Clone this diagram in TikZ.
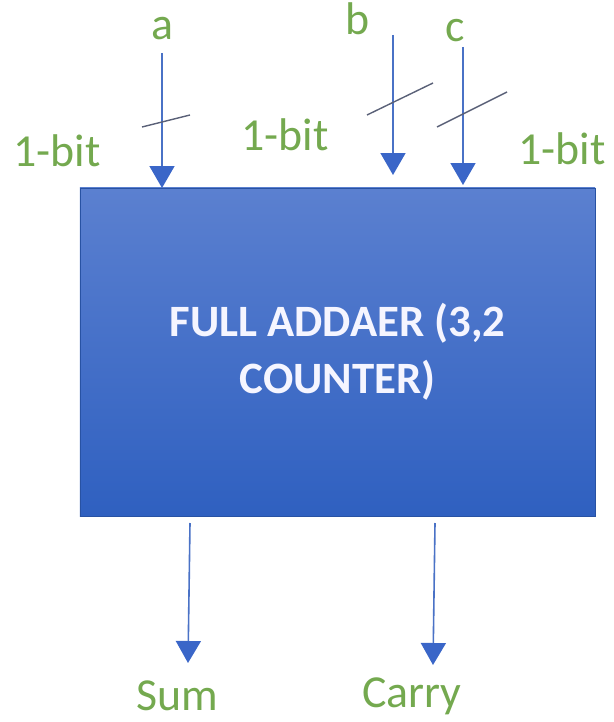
\documentclass[tikz,border=0pt]{standalone}
\usepackage{fontspec}
\setmainfont{Carlito}
\usetikzlibrary{arrows.meta}
\definecolor{lblgreen}{HTML}{74A94F}
\definecolor{arrblue}{HTML}{4A72C6}
\definecolor{headblue}{HTML}{3A66C8}
\definecolor{boxtop}{HTML}{5B80D0}
\definecolor{boxbot}{HTML}{2F60C0}
\definecolor{tickgray}{HTML}{5A6178}
\tikzset{
  lbl/.style={text=lblgreen, font=\fontsize{46}{52}\selectfont, inner sep=0pt},
  sig/.style={draw=arrblue, line width=1.6bp, -{Triangle[width=25bp,length=22bp,color=headblue]}},
  tick/.style={draw=tickgray, line width=1.4bp},
  adder/.style={draw=boxbot!85!black, line width=0.6bp, top color=boxtop, bottom color=boxbot,
    minimum width=515bp, minimum height=328bp, inner sep=0pt, text=white!96!blue, align=center,
    font=\bfseries\fontsize{45}{57}\selectfont}
}
\begin{document}
\begin{tikzpicture}[x=1bp,y=-1bp]
\useasboundingbox (0,0) rectangle (614,722);
\node[adder] (box) at (337.5,352) {FULL ADDAER (3,2\\COUNTER)};
% input labels
\node[lbl, anchor=base] (la) at (162,40) {a};
\node[lbl, anchor=base] (lb) at (358,35) {b};
\node[lbl, anchor=base] (lc) at (455,42) {c};
\node[lbl, anchor=base] (w1) at (57,166) {1-bit};
\node[lbl, anchor=base] (w2) at (285,150) {1-bit};
\node[lbl, anchor=base] (w3) at (562,164) {1-bit};
% arrow endpoints
\coordinate (a0) at (162,53);
\coordinate (a1) at (162,188);
\coordinate (b0) at (393,35);
\coordinate (b1) at (393,175);
\coordinate (c0) at (463,47);
\coordinate (c1) at (463,185);
\draw[sig] (a0) -- (a1);
\draw[sig] (b0) -- (b1);
\draw[sig] (c0) -- (c1);
% bus ticks
\coordinate (ta0) at (142,127); \coordinate (ta1) at (190,115);
\coordinate (tb0) at (367,115); \coordinate (tb1) at (433,83);
\coordinate (tc0) at (437,127); \coordinate (tc1) at (507,92);
\draw[tick] (ta0) -- (ta1);
\draw[tick] (tb0) -- (tb1);
\draw[tick] (tc0) -- (tc1);
% outputs
\coordinate (s0) at (190,523);
\coordinate (s1) at (188,663);
\coordinate (k0) at (435,523);
\coordinate (k1) at (433,665);
\draw[sig] (s0) -- (s1);
\draw[sig] (k0) -- (k1);
\node[lbl, anchor=base] (sum) at (177,710) {Sum};
\node[lbl, anchor=base] (carry) at (412,707) {Carry};
\end{tikzpicture}
\end{document}
